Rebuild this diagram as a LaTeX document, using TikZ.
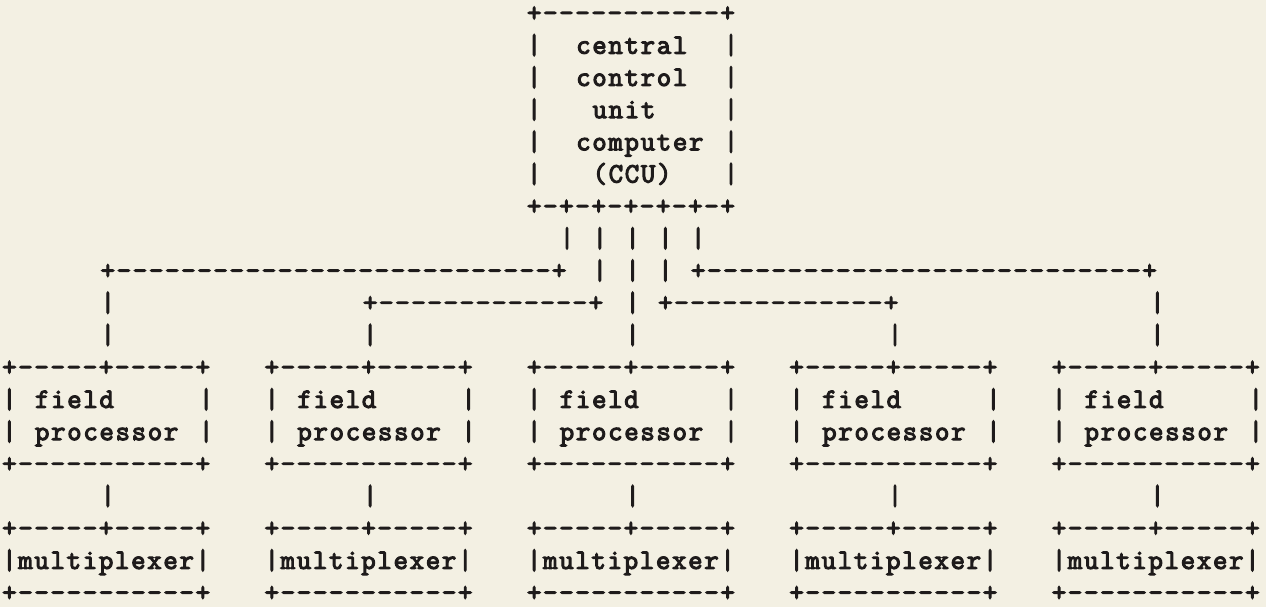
\documentclass[tikz,border=0pt]{standalone}
\usepackage{fontspec}
\newfontfamily\tw[Ligatures=TeXOff, LetterSpace=6.07, FakeBold=4]{Latin Modern Mono}
\definecolor{paper}{HTML}{F3F0E3}
\definecolor{ink}{HTML}{1E1B1B}
\newcommand\dashes[1]{\foreach\k in {1,...,#1}{-}}
\newcommand\putc[3]{\node[ch] (r#2c#1) at ({2.2+16.4*#1},{-(21.5+32.2*#2)}) {#3};}
\begin{document}
\begin{tikzpicture}[x=1pt,y=1pt]
\tikzset{ch/.style={inner sep=0pt, outer sep=0pt, anchor=base west, text=ink,
  font=\tw\fontsize{28}{32}\selectfont}}
\fill[paper] (0,0) rectangle (1266,-607);
\useasboundingbox (0,0) rectangle (1266,-607);
% central control unit
\putc{32}{0}{+\dashes{11}+}
\putc{32}{1}{|}\putc{35}{1}{central}\putc{44}{1}{|}
\putc{32}{2}{|}\putc{35}{2}{control}\putc{44}{2}{|}
\putc{32}{3}{|}\putc{36}{3}{unit}\putc{44}{3}{|}
\putc{32}{4}{|}\putc{35}{4}{computer}\putc{44}{4}{|}
\putc{32}{5}{|}\putc{36}{5}{(CCU)}\putc{44}{5}{|}
\putc{32}{6}{+-+-+-+-+-+-+}
% bus lines
\putc{34}{7}{|}\putc{36}{7}{|}\putc{38}{7}{|}\putc{40}{7}{|}\putc{42}{7}{|}
\putc{6}{8}{+\dashes{27}+}\putc{36}{8}{|}\putc{38}{8}{|}\putc{40}{8}{|}\putc{42}{8}{+\dashes{27}+}
\putc{6}{9}{|}\putc{22}{9}{+\dashes{13}+}\putc{38}{9}{|}\putc{40}{9}{+\dashes{13}+}\putc{70}{9}{|}
\putc{6}{10}{|}\putc{22}{10}{|}\putc{38}{10}{|}\putc{54}{10}{|}\putc{70}{10}{|}
% field processors and multiplexers
\foreach \b in {0,16,32,48,64}{
  \pgfmathtruncatemacro\bb{\b+2}
  \pgfmathtruncatemacro\bm{\b+6}
  \pgfmathtruncatemacro\be{\b+12}
  \putc{\b}{11}{+-----+-----+}
  \putc{\b}{12}{|}\putc{\bb}{12}{field}\putc{\be}{12}{|}
  \putc{\b}{13}{|}\putc{\bb}{13}{processor}\putc{\be}{13}{|}
  \putc{\b}{14}{+\dashes{11}+}
  \putc{\bm}{15}{|}
  \putc{\b}{16}{+-----+-----+}
  \putc{\b}{17}{|multiplexer|}
  \putc{\b}{18}{+\dashes{11}+}
}
\end{tikzpicture}
\end{document}
